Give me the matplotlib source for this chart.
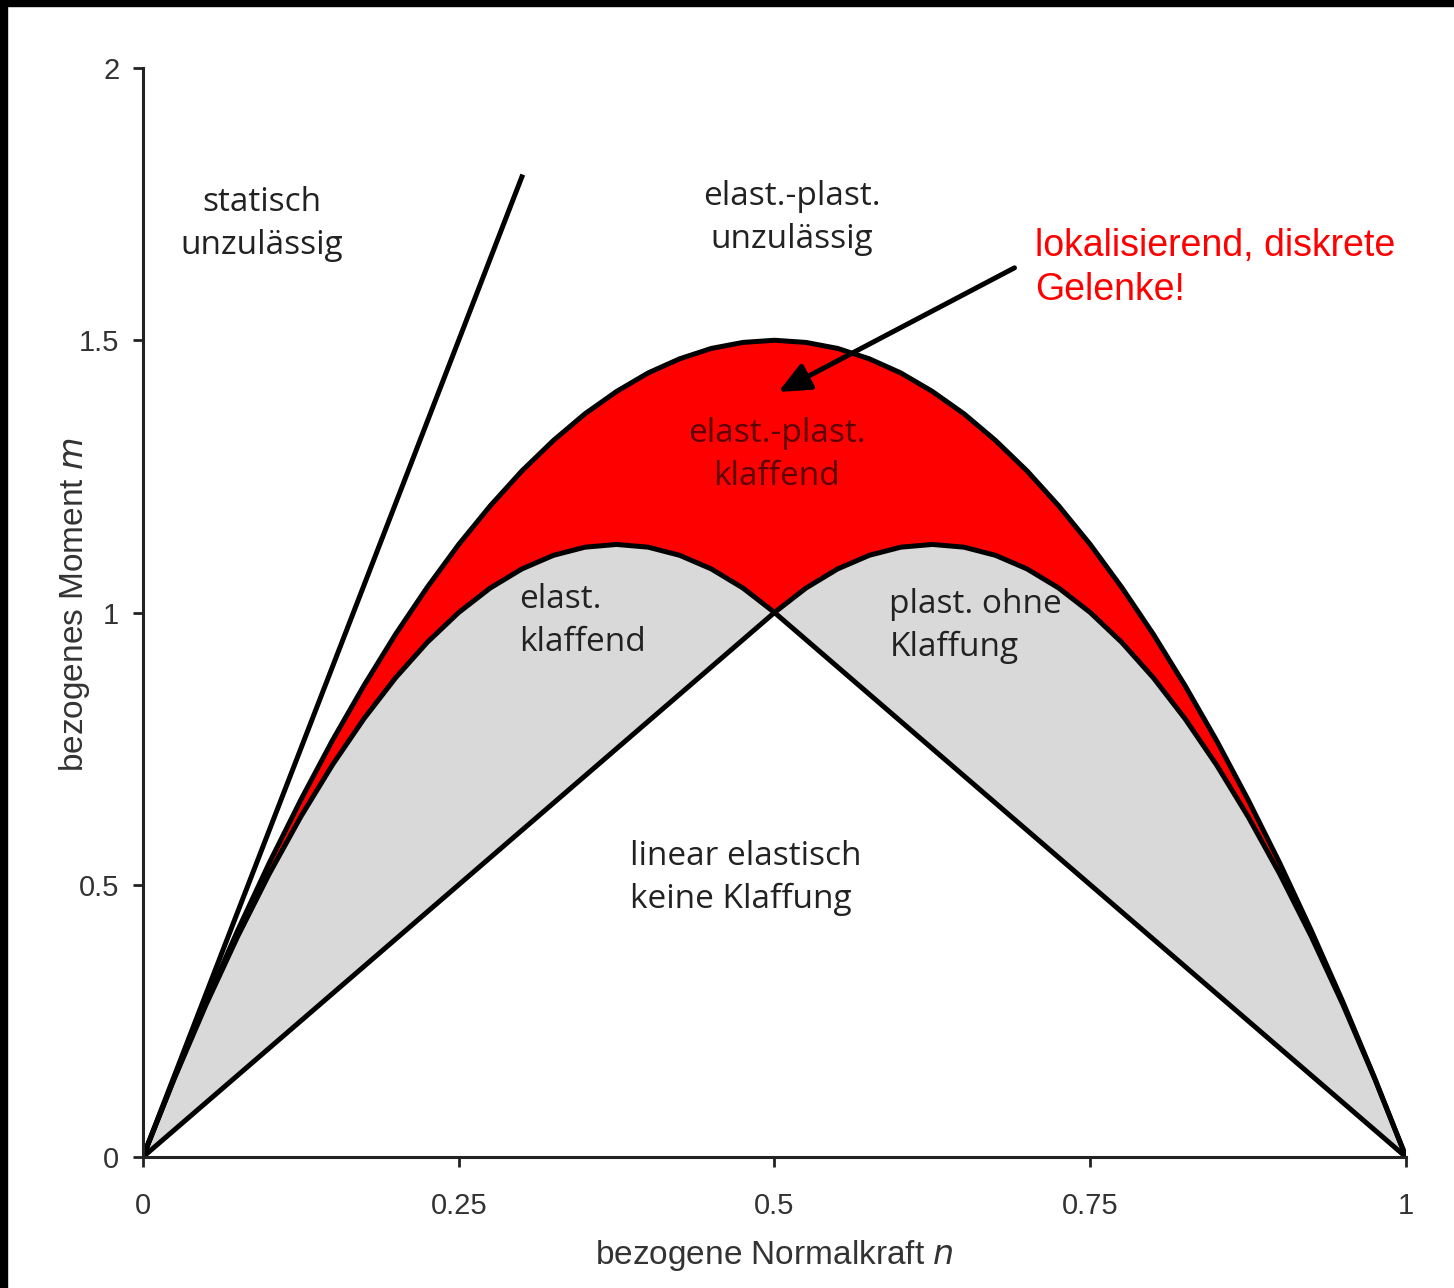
import matplotlib
matplotlib.use("Agg")
import matplotlib.pyplot as plt
from matplotlib.patches import Rectangle

# Normalised axial force n (sample points along each boundary)
n_pts = [0.0, 0.025, 0.05, 0.075, 0.1, 0.125, 0.15, 0.175, 0.2, 0.225, 0.25,
         0.275, 0.3, 0.325, 0.35, 0.375, 0.4, 0.425, 0.45, 0.475, 0.5,
         0.525, 0.55, 0.575, 0.6, 0.625, 0.65, 0.675, 0.7, 0.725, 0.75,
         0.775, 0.8, 0.825, 0.85, 0.875, 0.9, 0.925, 0.95, 0.975, 1.0]
# Plastic limit (outer boundary of the red zone)
m_outer = [0.0, 0.146, 0.285, 0.416, 0.54, 0.656, 0.765, 0.866, 0.96, 1.046, 1.125,
           1.196, 1.26, 1.316, 1.365, 1.406, 1.44, 1.466, 1.485, 1.496, 1.5,
           1.496, 1.485, 1.466, 1.44, 1.406, 1.365, 1.316, 1.26, 1.196, 1.125,
           1.046, 0.96, 0.866, 0.765, 0.656, 0.54, 0.416, 0.285, 0.146, 0.0]
# Boundary of the elastic gaping / plastic non-gaping regions
m_inner = [0.0, 0.145, 0.28, 0.405, 0.52, 0.625, 0.72, 0.805, 0.88, 0.945, 1.0,
           1.045, 1.08, 1.105, 1.12, 1.125, 1.12, 1.105, 1.08, 1.045, 1.0,
           1.045, 1.08, 1.105, 1.12, 1.125, 1.12, 1.105, 1.08, 1.045, 1.0,
           0.945, 0.88, 0.805, 0.72, 0.625, 0.52, 0.405, 0.28, 0.145, 0.0]
# Linear-elastic limit without gaping
n_lin = [0.0, 0.5, 1.0]
m_lin = [0.0, 1.0, 0.0]
# Statically inadmissible boundary
n_stat = [0.0, 0.3]
m_stat = [0.0, 1.8]

x_ticks = [0, 0.25, 0.5, 0.75, 1]
x_tick_labels = ["0", "0.25", "0.5", "0.75", "1"]
y_ticks = [0, 0.5, 1, 1.5, 2]
y_tick_labels = ["0", "0.5", "1", "1.5", "2"]

RED = "#ff0000"
GREY = "#d9d9d9"
REGION_FONT = "Open Sans"
AXIS_FONT = "Liberation Sans"

fig = plt.figure(figsize=(14.54, 12.88), dpi=100)
ax = fig.add_axes([0.0983, 0.1017, 0.8687, 0.8455])

# Frame strips along the top and left edges of the figure
fig.patches.append(Rectangle((0, 1 - 6 / 1288), 1, 6 / 1288, transform=fig.transFigure,
                             color="black", zorder=10))
fig.patches.append(Rectangle((0, 0), 7 / 1454, 1, transform=fig.transFigure,
                             color="black", zorder=10))

# Filled regions: red between plastic limit and inner curve, grey down to the linear limit
m_lin_pts = [min(2 * v, 2 * (1 - v)) for v in n_pts]
ax.fill_between(n_pts, m_inner, m_outer, color=RED, lw=0, zorder=1)
ax.fill_between(n_pts, m_lin_pts, m_inner, color=GREY, lw=0, zorder=1)

lw = 3.6
ax.plot(n_pts, m_outer, color="black", lw=lw, zorder=3, solid_joinstyle="round")
ax.plot(n_pts, m_inner, color="black", lw=lw, zorder=3, solid_joinstyle="round")
ax.plot(n_lin, m_lin, color="black", lw=lw, zorder=3)
ax.plot(n_stat, m_stat, color="black", lw=lw, zorder=3)

# Region labels
txt = dict(fontsize=24, family=REGION_FONT, color="#222222", linespacing=1.4)
ax.text(0.094, 1.714, "statisch\nunzulässig", ha="center", va="center", **txt)
ax.text(0.514, 1.724, "elast.-plast.\nunzulässig", ha="center", va="center", **txt)
ax.text(0.298, 0.985, "elast.\nklaffend", ha="left", va="center", **txt)
ax.text(0.591, 0.975, "plast. ohne\nKlaffung", ha="left", va="center", **txt)
ax.text(0.386, 0.513, "linear elastisch\nkeine Klaffung", ha="left", va="center", **txt)
ax.text(0.502, 1.29, "elast.-plast.\nklaffend", ha="center", va="center",
        fontsize=24, family=REGION_FONT, color="#5c0000", linespacing=1.4)

# Annotation with arrow
ax.annotate("", xy=(0.503, 1.405), xytext=(0.690, 1.633),
            arrowprops=dict(arrowstyle="-|>,head_length=1.9,head_width=0.85",
                            color="black", lw=3.6, shrinkA=0, shrinkB=0),
            zorder=5)
ax.text(0.706, 1.633, "lokalisierend, diskrete\nGelenke!", ha="left", va="center",
        fontsize=27, family=AXIS_FONT, color=RED, linespacing=1.3)

ax.set_xlim(0, 1)
ax.set_ylim(0, 2)
ax.set_xticks(x_ticks)
ax.set_xticklabels(x_tick_labels)
ax.set_yticks(y_ticks)
ax.set_yticklabels(y_tick_labels)
for s in ("top", "right"):
    ax.spines[s].set_visible(False)
for s in ("left", "bottom"):
    ax.spines[s].set_linewidth(2.2)
    ax.spines[s].set_color("#222222")
    ax.spines[s].set_zorder(4)
ax.tick_params(axis="both", direction="out", length=7, width=2, color="#222222",
               labelsize=21, labelcolor="#333333")
ax.tick_params(axis="x", pad=18)
ax.tick_params(axis="y", pad=10)
for lab in ax.get_xticklabels() + ax.get_yticklabels():
    lab.set_family(AXIS_FONT)

ax.set_xlabel("bezogene Normalkraft $\\it{n}$", fontsize=24, family=AXIS_FONT,
              color="#333333", labelpad=13)
ax.set_ylabel("bezogenes Moment $\\it{m}$", fontsize=24, family=AXIS_FONT,
              color="#333333")
ax.yaxis.set_label_coords(-0.040, 0.507)

fig.savefig("out.png", dpi=100)
